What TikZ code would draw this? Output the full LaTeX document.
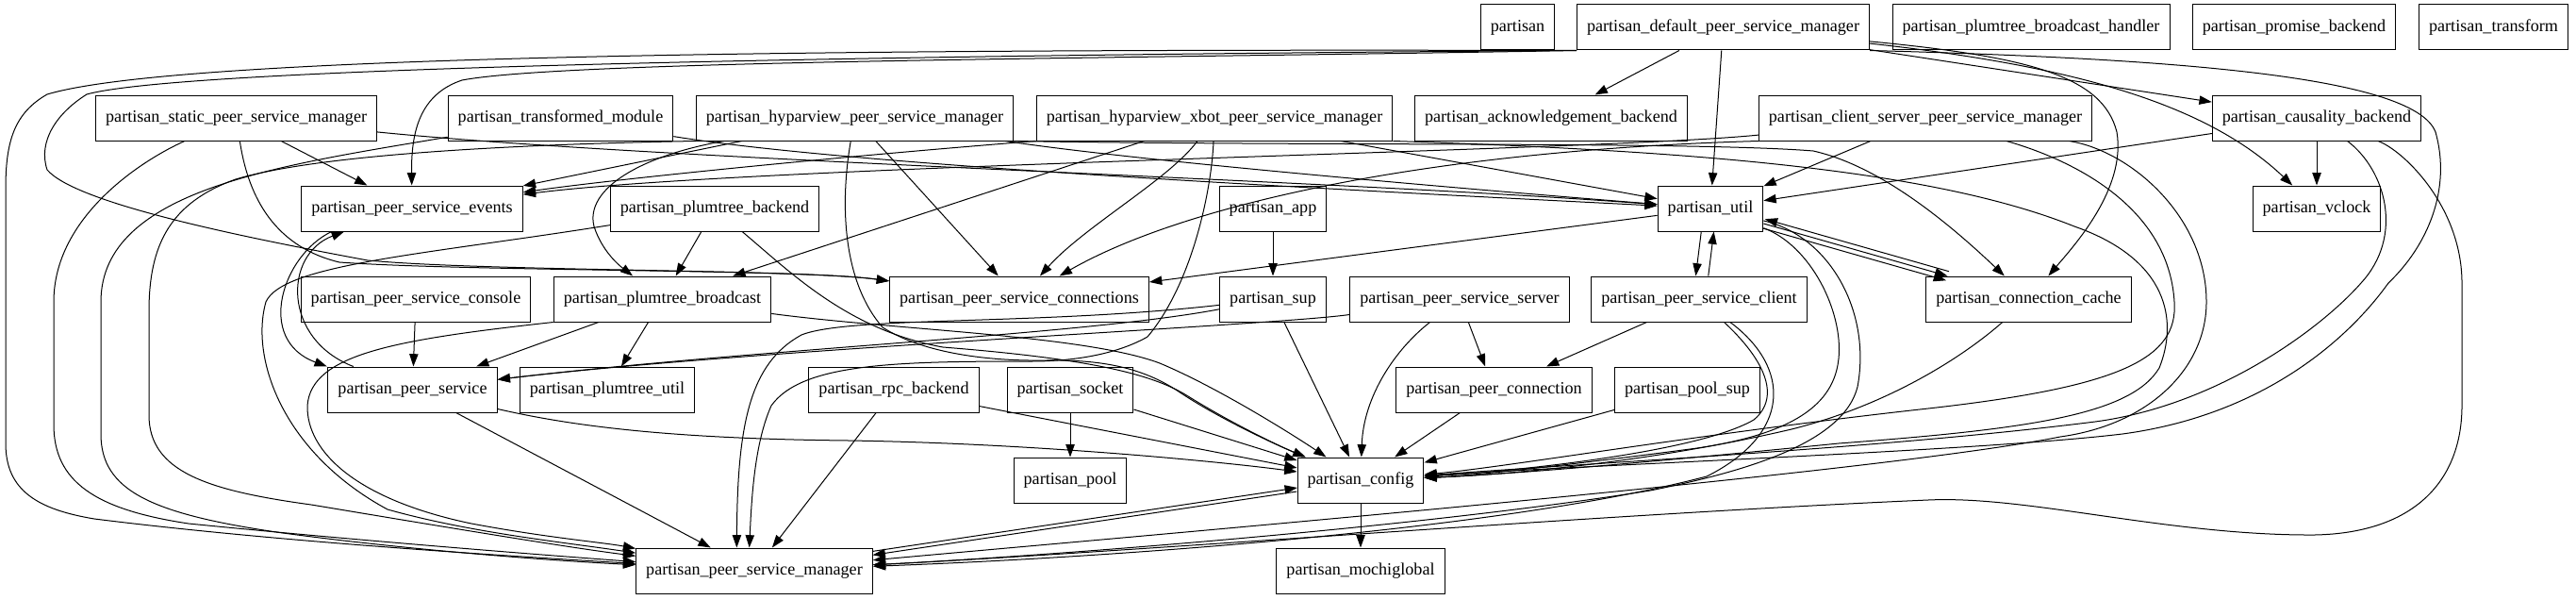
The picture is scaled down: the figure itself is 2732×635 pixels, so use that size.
\documentclass[tikz,border=0pt]{standalone}
\usepackage{fontspec}
\setmainfont{Liberation Serif}
\usetikzlibrary{arrows.meta,positioning}

\begin{document}
\begin{tikzpicture}[
    x=0.75pt, y=-0.75pt,
    mod/.style={rectangle, draw, line width=0.75pt, minimum height=36pt, inner xsep=7.9pt, inner ysep=0pt, font=\fontsize{13.6}{16}\selectfont},
    dep/.style={-{Triangle[length=10pt,width=7pt]}, line width=0.75pt}
]
\useasboundingbox (0,0) rectangle (2732,635);

% Top row
\node[mod] (partisan) at (1609.5,29) {partisan};
\node[mod] (dpsm) at (1827.5,29) {partisan\_default\_peer\_service\_manager};
\node[mod] (pbh) at (2154,29) {partisan\_plumtree\_broadcast\_handler};
\node[mod] (prom) at (2433,29) {partisan\_promise\_backend};
\node[mod] (ptf) at (2644.5,29) {partisan\_transform};

% Peer service managers
\node[mod] (spsm) at (250.6,125) {partisan\_static\_peer\_service\_manager};
\node[mod] (tmod) at (594.5,125) {partisan\_transformed\_module};
\node[mod] (hpsm) at (906.5,125) {partisan\_hyparview\_peer\_service\_manager};
\node[mod] (xpsm) at (1288,125) {partisan\_hyparview\_xbot\_peer\_service\_manager};
\node[mod] (ackb) at (1645,125) {partisan\_acknowledgement\_backend};
\node[mod] (cspsm) at (2042,125) {partisan\_client\_server\_peer\_service\_manager};
\node[mod] (caus) at (2457,125) {partisan\_causality\_backend};

% Third row
\node[mod] (events) at (437,221) {partisan\_peer\_service\_events};
\node[mod] (ptback) at (758,221) {partisan\_plumtree\_backend};
\node[mod] (app) at (1350,221) {partisan\_app};
\node[mod] (util) at (1814,221) {partisan\_util};
\node[mod] (vclock) at (2457,221) {partisan\_vclock};

% Fourth row
\node[mod] (console) at (441,317) {partisan\_peer\_service\_console};
\node[mod] (ptbcast) at (702.5,317) {partisan\_plumtree\_broadcast};
\node[mod] (conns) at (1081,317) {partisan\_peer\_service\_connections};
\node[mod] (sup) at (1350,317) {partisan\_sup};
\node[mod] (server) at (1548,317) {partisan\_peer\_service\_server};
\node[mod] (client) at (1802,317) {partisan\_peer\_service\_client};
\node[mod] (ccache) at (2151.5,317) {partisan\_connection\_cache};

% Fifth row
\node[mod] (pservice) at (437.5,413) {partisan\_peer\_service};
\node[mod] (ptutil) at (644,413) {partisan\_plumtree\_util};
\node[mod] (rpc) at (948,413) {partisan\_rpc\_backend};
\node[mod] (socket) at (1135,413) {partisan\_socket};
\node[mod] (pconn) at (1584.5,413) {partisan\_peer\_connection};
\node[mod] (poolsup) at (1789.5,413) {partisan\_pool\_sup};

% Bottom rows
\node[mod] (pool) at (1135,509) {partisan\_pool};
\node[mod] (config) at (1443,509) {partisan\_config};
\node[mod] (psm) at (800,605) {partisan\_peer\_service\_manager};
\node[mod] (mochi) at (1443,605) {partisan\_mochiglobal};

% Default peer service manager
\draw[dep] (dpsm) -- (ackb);
\draw[dep] (dpsm) -- (util);
\draw[dep] (dpsm) -- (caus);
\draw[dep] (dpsm) .. controls (2200,70) and (2340,110) .. (vclock);
\draw[dep] (dpsm) .. controls (2150,60) and (2230,80) .. (2245,140) .. controls (2255,200) and (2200,260) .. (ccache);
\draw[dep] (dpsm.south west) .. controls (1200,62) and (600,64) .. (490,85) .. controls (445,100) and (436,140) .. (events);
\draw[dep] (dpsm.south west) .. controls (1000,58) and (200,70) .. (92,100) .. controls (60,120) and (40,150) .. (50,180) .. controls (80,215) and (250,250) .. (390,276) .. controls (520,288) and (850,285) .. (conns);
\draw[dep] (dpsm.south west) .. controls (1000,52) and (200,55) .. (50,100) .. controls (15,120) and (6,150) .. (6,200) -- (6,470) .. controls (6,520) and (40,540) .. (100,550) .. controls (300,575) and (550,590) .. (psm);
\draw[dep] (dpsm.south east) .. controls (2300,62) and (2560,80) .. (2583,140) .. controls (2600,200) and (2575,260) .. (2533,300) .. controls (2490,360) and (2400,440) .. (2251,460) .. controls (2100,478) and (1700,492) .. (config);

% Static and transformed module
\draw[dep] (spsm) -- (events);
\draw[dep] (spsm) .. controls (150,170) and (57,230) .. (57,320) -- (57,450) .. controls (57,510) and (100,540) .. (200,555) .. controls (400,575) and (600,590) .. (psm);
\draw[dep] (spsm) .. controls (262,200) and (285,260) .. (360,278) .. controls (500,288) and (850,285) .. (conns);
\draw[dep] (spsm) .. controls (700,170) and (1400,190) .. (util);
\draw[dep] (tmod) .. controls (300,175) and (107,200) .. (107,320) -- (107,460) .. controls (107,520) and (160,545) .. (300,565) .. controls (450,585) and (600,595) .. (psm);
\draw[dep] (tmod) .. controls (900,175) and (1400,200) .. (util);

% Hyparview
\draw[dep] (hpsm) -- (events);
\draw[dep] (hpsm) .. controls (680,165) and (620,200) .. (630,240) .. controls (638,265) and (655,280) .. (ptbcast);
\draw[dep] (hpsm) -- (conns);
\draw[dep] (hpsm.south west) .. controls (600,152) and (350,160) .. (250,190) .. controls (180,215) and (158,260) .. (158,330) -- (158,440) .. controls (158,500) and (220,520) .. (330,535) .. controls (450,555) and (600,580) .. (psm);
\draw[dep] (hpsm) .. controls (1200,170) and (1550,200) .. (util);
\draw[dep] (hpsm.south east) .. controls (1400,155) and (1800,150) .. (1923,160) .. controls (1990,175) and (2060,230) .. (ccache);
\draw[dep] (hpsm) .. controls (890,220) and (895,300) .. (936,347) .. controls (980,375) and (1050,383) .. (1110,382) .. controls (1175,381) and (1215,392) .. (1250,415) .. controls (1290,442) and (1350,470) .. (config);

% Xbot
\draw[dep] (xpsm) .. controls (1285,200) and (1265,300) .. (1217,357) .. controls (1180,378) and (1130,383) .. (1094,383) .. controls (950,383) and (850,385) .. (818,430) .. controls (800,470) and (797,530) .. ([xshift=-4pt]psm.north);
\draw[dep] (xpsm) .. controls (1240,190) and (1150,240) .. (conns);
\draw[dep] (xpsm) -- (ptbcast);
\draw[dep] (xpsm) -- (util);
\draw[dep] (xpsm.south west) .. controls (900,165) and (650,190) .. (events);
\draw[dep] (xpsm.south east) .. controls (1800,160) and (2050,180) .. (2200,240) .. controls (2300,275) and (2310,340) .. (2290,390) .. controls (2260,440) and (2150,455) .. (1950,470) .. controls (1750,490) and (1600,503) .. (config);

% Client server and causality
\draw[dep] (cspsm) .. controls (1700,160) and (800,175) .. (events);
\draw[dep] (cspsm) -- (util);
\draw[dep] (cspsm.south west) .. controls (1500,160) and (1250,220) .. (conns);
\draw[dep] (cspsm) .. controls (2200,170) and (2300,220) .. (2306,320) .. controls (2310,380) and (2250,410) .. (2045,433) .. controls (1800,460) and (1600,495) .. (config);
\draw[dep] (cspsm) .. controls (2260,160) and (2340,230) .. (2340,320) .. controls (2340,390) and (2280,450) .. (2185,463) .. controls (2000,500) and (1300,560) .. (psm);
\draw[dep] (caus) -- (util);
\draw[dep] (caus) -- (vclock);
\draw[dep] (caus) .. controls (2530,180) and (2550,250) .. (2504,300) .. controls (2460,350) and (2350,430) .. (2222,447) .. controls (2000,475) and (1700,490) .. (config);
\draw[dep] (caus) .. controls (2550,160) and (2611,220) .. (2611,300) -- (2611,430) .. controls (2611,510) and (2560,565) .. (2455,567) .. controls (2300,568) and (2150,525) .. (2045,530) .. controls (1700,545) and (1200,585) .. (psm);

% Util, client and connection cache
\draw[dep, transform canvas={xshift=-5pt}] (util) -- (client);
\draw[dep, transform canvas={xshift=5pt}] (client) -- (util);
\draw[dep, transform canvas={shift={(1.4,-4.8)}}] (ccache) -- (util);
\draw[dep] (util) -- (ccache);
\draw[dep, transform canvas={shift={(-1.4,4.8)}}] (util) -- (ccache);
\draw[dep] (util) -- (conns);
\draw[dep] (util) .. controls (1920,260) and (1955,330) .. (1950,380) .. controls (1945,430) and (1900,460) .. (1800,475) .. controls (1650,495) and (1550,505) .. (config);
\draw[dep] (util) .. controls (1940,250) and (1985,330) .. (1970,410) .. controls (1955,470) and (1850,500) .. (1750,520) .. controls (1500,560) and (1100,590) .. (psm);
\draw[dep] (client) -- (pconn);
\draw[dep] (client) .. controls (1870,380) and (1890,420) .. (1860,445) .. controls (1800,480) and (1600,500) .. (config);
\draw[dep] (client) .. controls (1900,390) and (1900,460) .. (1810,505) .. controls (1600,560) and (1200,590) .. (psm);
\draw[dep] (ccache) .. controls (2080,380) and (2000,430) .. (1900,455) .. controls (1750,490) and (1600,503) .. (config);

% App, sup and server
\draw[dep] (app) -- (sup);
\draw[dep] (sup) -- (config);
\draw[dep] (sup) .. controls (1150,355) and (800,370) .. (pservice);
\draw[dep] (sup) .. controls (1100,345) and (900,335) .. (850,355) .. controls (795,385) and (782,450) .. ([xshift=-14pt]psm.north);
\draw[dep] (server) -- (pconn);
\draw[dep] (server) .. controls (1480,370) and (1446,420) .. (config);
\draw[dep] (server) .. controls (1350,345) and (800,370) .. (pservice);

% Peer service and plumtree
\draw[dep] (pservice) -- (psm);
\draw[dep] (pservice) .. controls (600,450) and (700,465) .. (900,467) .. controls (1100,470) and (1300,490) .. (config);
\draw[dep] ([xshift=-47pt]pservice.north) .. controls (300,360) and (300,270) .. ([xshift=-54pt]events.south);
\draw[dep] ([xshift=-64pt]events.south) .. controls (300,270) and (270,360) .. ([xshift=-68pt]pservice.north);
\draw[dep] (console) -- (pservice);
\draw[dep] (ptbcast) -- (pservice);
\draw[dep] (ptbcast) -- (ptutil);
\draw[dep] (ptbcast.south west) .. controls (420,360) and (330,375) .. (326,430) .. controls (325,480) and (380,530) .. (500,555) .. controls (580,570) and (640,575) .. (psm);
\draw[dep] (ptbcast) .. controls (950,350) and (1150,355) .. (1230,385) .. controls (1290,410) and (1370,460) .. (config);
\draw[dep] (ptback) -- (ptbcast);
\draw[dep] (ptback) .. controls (450,270) and (300,280) .. (282,320) .. controls (265,380) and (300,480) .. (411,540) .. controls (500,565) and (600,575) .. (psm);
\draw[dep] (ptback) .. controls (840,290) and (900,350) .. (1000,368) .. controls (1150,380) and (1220,395) .. (1260,420) .. controls (1300,445) and (1350,470) .. (config);

% Lower modules
\draw[dep] (pconn) -- (config);
\draw[dep] (poolsup) -- (config);
\draw[dep] (rpc) -- (config);
\draw[dep] (rpc) -- (psm);
\draw[dep] (socket) -- (pool);
\draw[dep] (socket) -- (config);
\draw[dep] (config) -- (mochi);
\draw[dep, transform canvas={shift={(0.3,-2)}}] (psm) -- (config);
\draw[dep, transform canvas={shift={(-0.3,2)}}] (config) -- (psm);

\end{tikzpicture}
\end{document}
